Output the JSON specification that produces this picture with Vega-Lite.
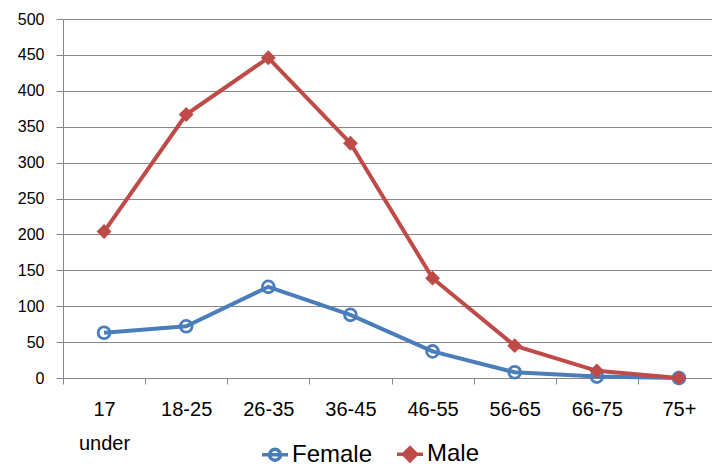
{
  "$schema": "https://vega.github.io/schema/vega-lite/v6.json",
  "autosize": {"type": "none"},
  "padding": {"left": 63, "top": 19, "right": 0, "bottom": 90},
  "width": 649,
  "height": 359,
  "background": "white",
  "config": {
    "view": {"stroke": null},
    "font": "Liberation Sans"
  },
  "data": {
    "values": [
      {"age": "17 under", "series": "Female", "value": 63},
      {"age": "18-25", "series": "Female", "value": 72},
      {"age": "26-35", "series": "Female", "value": 127},
      {"age": "36-45", "series": "Female", "value": 88},
      {"age": "46-55", "series": "Female", "value": 37},
      {"age": "56-65", "series": "Female", "value": 8},
      {"age": "66-75", "series": "Female", "value": 2},
      {"age": "75+", "series": "Female", "value": 0},
      {"age": "17 under", "series": "Male", "value": 204},
      {"age": "18-25", "series": "Male", "value": 367},
      {"age": "26-35", "series": "Male", "value": 446},
      {"age": "36-45", "series": "Male", "value": 327},
      {"age": "46-55", "series": "Male", "value": 139},
      {"age": "56-65", "series": "Male", "value": 45},
      {"age": "66-75", "series": "Male", "value": 10},
      {"age": "75+", "series": "Male", "value": 0}
    ]
  },
  "encoding": {
    "x": {
      "field": "age",
      "type": "nominal",
      "bandPosition": 0.5,
      "sort": ["17 under", "18-25", "26-35", "36-45", "46-55", "56-65", "66-75", "75+"],
      "scale": {"type": "band", "range": [0, 657], "paddingInner": 0, "paddingOuter": 0},
      "axis": {
        "title": null,
        "labelAngle": 0,
        "tickBand": "extent",
        "grid": false,
        "domainColor": "#868686",
        "tickColor": "#868686",
        "tickSize": 6,
        "labelFontSize": 20,
        "labelColor": "#000000",
        "labelPadding": 15,
        "labelLineHeight": 34,
        "labelExpr": "datum.value == '17 under' ? ['17', 'under'] : datum.value"
      }
    },
    "y": {
      "field": "value",
      "type": "quantitative",
      "scale": {"domain": [0, 500], "nice": false},
      "axis": {
        "title": null,
        "values": [0, 50, 100, 150, 200, 250, 300, 350, 400, 450, 500],
        "gridColor": "#868686",
        "gridWidth": 1,
        "domainColor": "#868686",
        "tickColor": "#868686",
        "tickSize": 7,
        "labelFontSize": 16,
        "labelColor": "#000000",
        "labelPadding": 12
      }
    }
  },
  "layer": [
    {
      "transform": [{"filter": "datum.series == 'Female'"}],
      "mark": {"type": "line", "strokeWidth": 4},
      "encoding": {
        "color": {
          "field": "series",
          "type": "nominal",
          "scale": {"domain": ["Female", "Male"], "range": ["#4A7EBB", "#BE4B48"]},
          "legend": {
            "title": null,
            "orient": "none",
            "legendX": 197,
            "legendY": 420,
            "direction": "horizontal",
            "labelFontSize": 24,
            "labelColor": "#000000",
            "symbolSize": 676,
            "symbolStrokeWidth": 3.5,
            "labelOffset": 2,
            "columnPadding": 17,
            "encode": {
              "symbols": {
                "update": {
                  "shape": {"signal": "datum.value == 'Female' ? 'M-1,0H1M-0.42,0A0.42,0.42 0 1,1 0.42,0A0.42,0.42 0 1,1 -0.42,0' : 'M-1,0H1M0,-0.5L0.5,0L0,0.5L-0.5,0Z'"},
                  "fill": {"signal": "datum.value == 'Female' ? 'transparent' : '#BE4B48'"},
                  "stroke": {"signal": "datum.value == 'Female' ? '#4A7EBB' : '#BE4B48'"},
                  "strokeWidth": {"value": 3.5},
                  "opacity": {"value": 1},
                  "fillOpacity": {"value": 1},
                  "strokeOpacity": {"value": 1}
                }
              }
            }
          }
        }
      }
    },
    {
      "transform": [{"filter": "datum.series == 'Female'"}],
      "mark": {"type": "point", "shape": "circle", "filled": false, "color": "#4A7EBB", "strokeWidth": 2.8, "size": 140, "opacity": 1}
    },
    {
      "transform": [{"filter": "datum.series == 'Male'"}],
      "mark": {"type": "line", "strokeWidth": 4},
      "encoding": {
        "color": {"field": "series", "type": "nominal"}
      }
    },
    {
      "transform": [{"filter": "datum.series == 'Male'"}],
      "mark": {"type": "point", "shape": "diamond", "filled": true, "color": "#BE4B48", "size": 220, "opacity": 1}
    }
  ]
}
